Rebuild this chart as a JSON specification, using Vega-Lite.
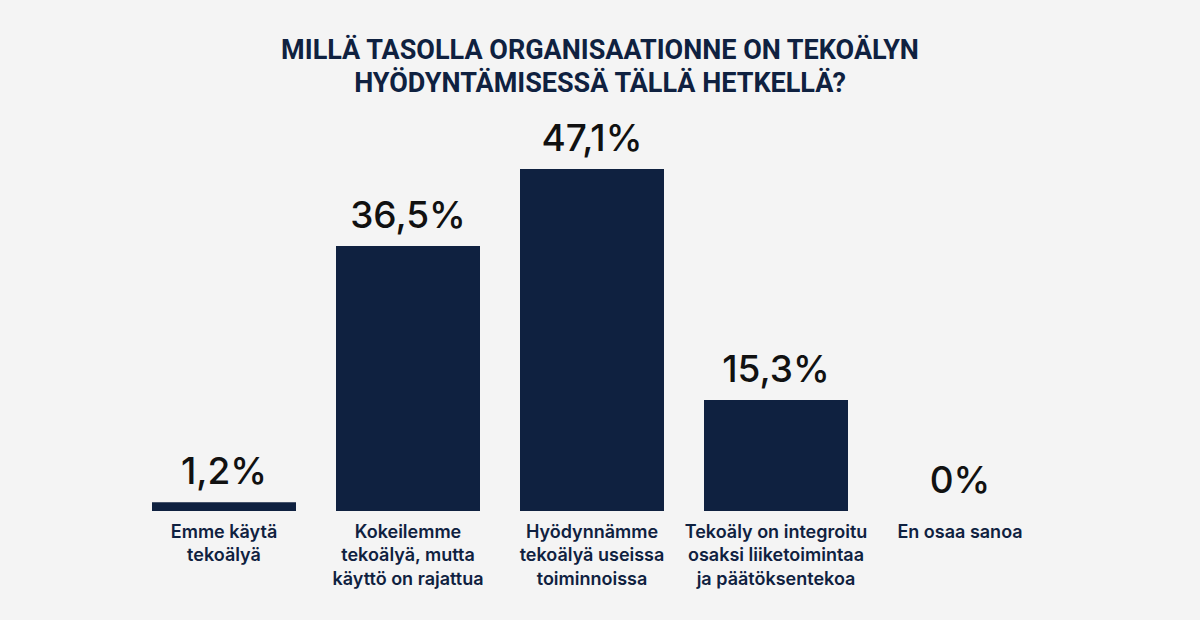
{
  "$schema": "https://vega.github.io/schema/vega-lite/v6.json",
  "width": 920,
  "height": 363,
  "autosize": {"type": "none"},
  "padding": {"left": 132, "top": 148, "right": 148, "bottom": 109},
  "background": "#f4f4f4",
  "title": {
    "text": ["MILLÄ TASOLLA ORGANISAATIONNE ON TEKOÄLYN", "HYÖDYNTÄMISESSÄ TÄLLÄ HETKELLÄ?"],
    "font": "Roboto",
    "fontSize": 27,
    "fontWeight": "bold",
    "color": "#0f2140",
    "lineHeight": 33,
    "anchor": "middle",
    "dx": 8,
    "offset": 23
  },
  "data": {
    "values": [
      {"category": "Emme käytä|tekoälyä", "value": 1.2, "label": "1,2%"},
      {"category": "Kokeilemme|tekoälyä, mutta|käyttö on rajattua", "value": 36.5, "label": "36,5%"},
      {"category": "Hyödynnämme|tekoälyä useissa|toiminnoissa", "value": 47.1, "label": "47,1%"},
      {"category": "Tekoäly on integroitu|osaksi liiketoimintaa|ja päätöksentekoa", "value": 15.3, "label": "15,3%"},
      {"category": "En osaa sanoa", "value": 0, "label": "0%"}
    ]
  },
  "encoding": {
    "x": {
      "field": "category",
      "type": "nominal",
      "sort": null,
      "scale": {"paddingInner": 0.2174, "paddingOuter": 0.1087},
      "axis": {
        "title": null,
        "domain": false,
        "ticks": false,
        "labelAngle": 0,
        "labelExpr": "split(datum.label, '|')",
        "labelFont": "Inter",
        "labelFontSize": 18,
        "labelFontWeight": 600,
        "labelColor": "#0f2140",
        "labelLineHeight": 23.5,
        "labelBaseline": "top",
        "labelPadding": 12,
        "labelLimit": 300
      }
    },
    "y": {
      "field": "value",
      "type": "quantitative",
      "scale": {"domain": [0, 50], "nice": false},
      "axis": null
    }
  },
  "layer": [
    {"mark": {"type": "bar", "color": "#0f2140"}},
    {
      "mark": {
        "type": "text",
        "baseline": "bottom",
        "dy": -10,
        "font": "Inter",
        "fontSize": 37,
        "fontWeight": 500,
        "color": "#111111"
      },
      "encoding": {"text": {"field": "label"}}
    }
  ],
  "config": {"view": {"stroke": null}}
}
